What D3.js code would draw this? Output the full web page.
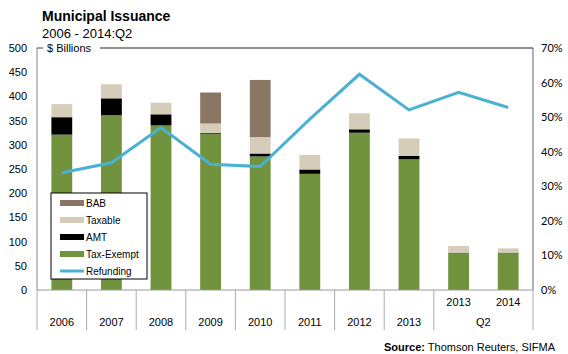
<!DOCTYPE html>
<html>
<head>
<meta charset="utf-8">
<script src="https://cdn.jsdelivr.net/npm/d3@7"></script>
<style>
  body { margin: 0; background: #fff; }
  svg text { font-family: "Liberation Sans", Arial, sans-serif; }
</style>
</head>
<body>
<svg id="chart"></svg>
<script>
// values ($ billions, refunding in %)
let periods = ["2006", "2007", "2008", "2009", "2010", "2011", "2012", "2013", "2013", "2014"]
let groups = ["", "", "", "", "", "", "", "", "Q2", "Q2"]
let taxExempt = [321, 361, 340, 322, 276, 240, 325, 270, 76, 76]
let amt = [36, 35, 23, 2, 6, 9, 7, 7, 1, 1]
let taxable = [27, 29, 24, 20, 34, 30, 33, 36, 14, 9]
let bab = [0, 0, 0, 64, 118, 0, 0, 0, 0, 0]
let refunding = [33.9, 36.8, 47.0, 36.4, 35.7, 49.4, 62.4, 52.1, 57.2, 52.8]
let leftTicks = [0, 50, 100, 150, 200, 250, 300, 350, 400, 450, 500]
let rightTicks = [0, 10, 20, 30, 40, 50, 60, 70]

let seriesKeys = ["taxExempt", "amt", "taxable", "bab"]
let seriesNames = {bab: "BAB", taxable: "Taxable", amt: "AMT", taxExempt: "Tax-Exempt"}
let colors = {taxExempt: "#71933d", amt: "#000000", taxable: "#d5ccb9", bab: "#8a7763"}
let lineColor = "#4bb1d3"

let svg = d3.select("#chart").attr("width", 568).attr("height", 354)

let plotL = 37, plotR = 533, plotT = 48, plotB = 290

let rows = periods.map((p, i) => ({
    id: i, period: p, group: groups[i],
    taxExempt: taxExempt[i], amt: amt[i], taxable: taxable[i], bab: bab[i],
    refunding: refunding[i]
}))

let x = d3.scaleBand().domain(rows.map(d => d.id)).range([plotL, plotR]).padding(0)
let y = d3.scaleLinear().domain([0, 500]).range([plotB, plotT])
let y2 = d3.scaleLinear().domain([0, 70]).range([plotB, plotT])
let barW = x.bandwidth() * 0.42

let stack = d3.stack().keys(seriesKeys)(rows)

// title
svg.append("text").attr("x", 42).attr("y", 21)
    .style("font-size", "14px").style("font-weight", "bold").text("Municipal Issuance")
svg.append("text").attr("x", 42).attr("y", 38)
    .style("font-size", "13px").text("2006 - 2014:Q2")

// frame
svg.append("line").attr("x1", plotL).attr("x2", plotL).attr("y1", plotT).attr("y2", plotB)
    .attr("stroke", "#888")
svg.append("line").attr("x1", plotR).attr("x2", plotR).attr("y1", plotT).attr("y2", plotB)
    .attr("stroke", "#666")
svg.append("line").attr("x1", plotL).attr("x2", plotL + 6).attr("y1", plotT).attr("y2", plotT)
    .attr("stroke", "#444")
svg.append("line").attr("x1", 100).attr("x2", plotR).attr("y1", plotT).attr("y2", plotT)
    .attr("stroke", "#222")
svg.append("text").attr("x", 47).attr("y", 52)
    .style("font-size", "11px").text("$ Billions")

// bars
svg.append("g").selectAll("g").data(stack)
    .enter().append("g")
    .attr("fill", s => colors[s.key])
    .selectAll("rect").data(s => s)
    .enter().append("rect")
    .attr("x", d => x(d.data.id) + (x.bandwidth() - barW) / 2)
    .attr("width", barW)
    .attr("y", d => y(d[1]))
    .attr("height", d => y(d[0]) - y(d[1]))

// refunding line
let line = d3.line()
    .x(d => x(d.id) + x.bandwidth() / 2)
    .y(d => y2(d.refunding))
svg.append("path").datum(rows)
    .attr("d", line)
    .attr("fill", "none")
    .attr("stroke", lineColor)
    .attr("stroke-width", 3)

// left axis
let yAxis = d3.axisLeft(y).tickValues(leftTicks).tickSize(0).tickPadding(10)
let gl = svg.append("g").attr("transform", "translate(" + plotL + ",0)").call(yAxis)
gl.select(".domain").remove()
gl.selectAll("text").style("font-family", "Liberation Sans, Arial, sans-serif")
    .style("font-size", "11px").attr("fill", "#000")

// right axis
let yAxis2 = d3.axisRight(y2).tickValues(rightTicks).tickSize(0).tickPadding(8)
    .tickFormat(d => d + "%")
let gr = svg.append("g").attr("transform", "translate(" + plotR + ",0)").call(yAxis2)
gr.select(".domain").remove()
gr.selectAll("text").style("font-family", "Lato, 'Open Sans', sans-serif")
    .style("font-size", "11px").attr("fill", "#000")

// baseline and category box
svg.append("line").attr("x1", plotL).attr("x2", plotR).attr("y1", plotB).attr("y2", plotB)
    .attr("stroke", "#999")
let sepIdx = [0, 1, 2, 3, 4, 5, 6, 7, 8]
svg.append("g").selectAll("line").data(sepIdx)
    .enter().append("line")
    .attr("x1", i => x(i)).attr("x2", i => x(i))
    .attr("y1", plotB).attr("y2", 330)
    .attr("stroke", "#aaa")
svg.append("line").attr("x1", plotR).attr("x2", plotR).attr("y1", plotB).attr("y2", 330)
    .attr("stroke", "#aaa")

let cat = svg.append("g").style("font-family", "Lato, 'Open Sans', sans-serif").style("font-size", "11px")
cat.selectAll("text.p").data(rows)
    .enter().append("text").attr("class", "p")
    .attr("x", d => x(d.id) + x.bandwidth() / 2)
    .attr("y", d => d.group ? 306 : 326)
    .attr("text-anchor", "middle")
    .text(d => d.period)
let q = rows.filter(d => d.group == "Q2")
cat.append("text")
    .attr("x", (x(q[0].id) + x(q[q.length - 1].id) + x.bandwidth()) / 2)
    .attr("y", 326).attr("text-anchor", "middle").text("Q2")

// legend
let lg = svg.append("g").attr("transform", "translate(51,193)")
lg.append("rect").attr("width", 96).attr("height", 86)
    .attr("fill", "#fff").attr("stroke", "#000")
let legendItems = ["bab", "taxable", "amt", "taxExempt"]
legendItems.forEach((k, i) => {
    let yy = 10 + i * 17
    lg.append("rect").attr("x", 9).attr("y", yy - 3).attr("width", 24).attr("height", 6)
        .attr("fill", colors[k])
    lg.append("text").attr("x", 35).attr("y", yy + 4)
        .style("font-size", "10px").text(seriesNames[k])
})
lg.append("line").attr("x1", 9).attr("x2", 33).attr("y1", 10 + 4 * 17).attr("y2", 10 + 4 * 17)
    .attr("stroke", lineColor).attr("stroke-width", 3)
lg.append("text").attr("x", 35).attr("y", 10 + 4 * 17 + 4)
    .style("font-size", "10px").text("Refunding")

// source
let src = svg.append("text").attr("x", 555).attr("y", 351).attr("text-anchor", "end")
    .style("font-size", "11px")
src.append("tspan").style("font-weight", "bold").text("Source:")
src.append("tspan").text(" Thomson Reuters, SIFMA")
</script>
</body>
</html>
